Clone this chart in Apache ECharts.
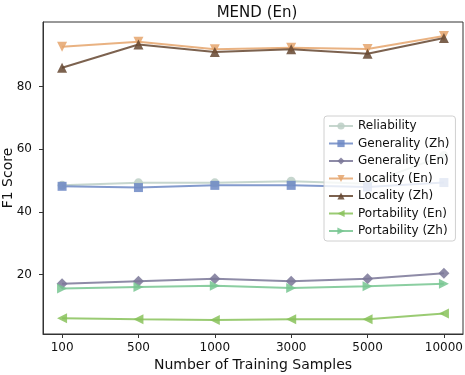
<!DOCTYPE html>
<html>
<head>
<meta charset="utf-8">
<script src="https://cdn.jsdelivr.net/npm/echarts@6/dist/echarts.min.js"></script>
<style>
html,body{margin:0;padding:0;background:#fff;}
#main{width:465px;height:375px;}
</style>
</head>
<body>
<div id="main"></div>
<script>
// 数据
var samples = ["100", "500", "1000", "3000", "5000", "10000"];
var reliability = [48.5, 49.3, 49.3, 49.8, 49.0, 58.0];
var generalityZh = [48.2, 47.8, 48.5, 48.5, 48.0, 49.4];
var generalityEn = [17.1, 17.9, 18.7, 17.9, 18.7, 20.5];
var localityEn = [92.7, 94.3, 91.9, 92.4, 92.0, 96.1];
var localityZh = [86.0, 93.4, 91.0, 91.9, 90.5, 95.5];
var portabilityEn = [6.1, 5.8, 5.6, 5.8, 5.8, 7.6];
var portabilityZh = [15.6, 16.1, 16.5, 15.8, 16.3, 17.1];
var yTicks = [20, 40, 60, 80];

var font = "DejaVu Sans";

function pts(arr) {
	return arr.map(function(v, i) { return [i, v]; });
}
function mk(name, data, color, symbol, rot, size) {
	return {
		name: name,
		type: "line",
		data: pts(data),
		symbol: symbol,
		symbolSize: size || 9,
		symbolRotate: rot || 0,
		lineStyle: { width: 2, color: color, opacity: 0.85 },
		itemStyle: { color: color, opacity: 0.85 },
		emphasis: { disabled: true },
		animation: false
	};
}

var chart = echarts.init(document.getElementById("main"));
chart.setOption({
	backgroundColor: "#fff",
	animation: false,
	title: {
		text: "MEND (En)",
		left: 252, top: 1, textAlign: "center",
		textStyle: { fontFamily: font, fontSize: 15, fontWeight: "normal", color: "#111" }
	},
	grid: {
		left: 43, right: 2, top: 22, bottom: 41,
		outerBoundsMode: "none", containLabel: false,
		show: true, borderColor: "#333", borderWidth: 1, backgroundColor: "transparent"
	},
	legend: {
		orient: "vertical",
		left: 324, top: 116,
		padding: [4, 6, 4, 4],
		itemWidth: 24, itemHeight: 9, itemGap: 5.5,
		backgroundColor: "rgba(255,255,255,0.8)",
		borderColor: "#d0d0d0", borderWidth: 1, borderRadius: 3,
		textStyle: { fontFamily: font, fontSize: 12, color: "#111" },
		data: ["Reliability", "Generality (Zh)", "Generality (En)", "Locality (En)", "Locality (Zh)", "Portability (En)", "Portability (Zh)"]
	},
	xAxis: {
		type: "value", min: -0.25, max: 5.25,
		name: "Number of Training Samples", nameLocation: "middle", nameGap: 24,
		nameMoveOverlap: false,
		nameTextStyle: { fontFamily: font, fontSize: 14, color: "#111" },
		axisLine: { show: true, onZero: false, lineStyle: { color: "#333", width: 1 } },
		axisTick: { show: true, length: 4, inside: false, customValues: [0, 1, 2, 3, 4, 5], lineStyle: { color: "#333" } },
		axisLabel: {
			customValues: [0, 1, 2, 3, 4, 5],
			fontFamily: font, fontSize: 12, color: "#111", margin: 8,
			formatter: function(v) { return samples[Math.round(v)]; }
		},
		splitLine: { show: false }
	},
	yAxis: {
		type: "value", min: 1.1, max: 100.6,
		name: "F1 Score", nameLocation: "middle", nameGap: 28,
		nameMoveOverlap: false,
		nameTextStyle: { fontFamily: font, fontSize: 14, color: "#111" },
		axisLine: { show: true, onZero: false, lineStyle: { color: "#333", width: 1 } },
		axisTick: { show: true, length: 4, inside: false, customValues: yTicks, lineStyle: { color: "#333" } },
		axisLabel: { customValues: yTicks, fontFamily: font, fontSize: 12, color: "#111", margin: 11 },
		splitLine: { show: false }
	},
	series: [
		mk("Reliability", reliability, "#bccfc6", "circle", 0, 9),
		mk("Generality (Zh)", generalityZh, "#6d88c4", "rect", 0, 9),
		mk("Generality (En)", generalityEn, "#7a7798", "diamond", 0, 11),
		mk("Locality (En)", localityEn, "#e5a46c", "triangle", 180, 10),
		mk("Locality (Zh)", localityZh, "#654630", "triangle", 0, 10),
		mk("Portability (En)", portabilityEn, "#88c25a", "triangle", 90, 10),
		mk("Portability (Zh)", portabilityZh, "#77c690", "triangle", -90, 10)
	]
});
</script>
</body>
</html>
